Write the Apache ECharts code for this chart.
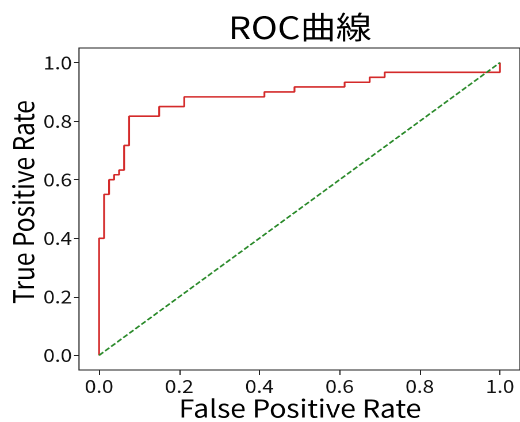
<!DOCTYPE html>
<html>
<head>
<meta charset="utf-8">
<script src="https://cdn.jsdelivr.net/npm/echarts@6/dist/echarts.min.js"></script>
<style>
html,body{margin:0;padding:0;background:#fff;overflow:hidden;}
#wrap{width:520px;height:422px;overflow:hidden;}
#chart{width:452px;height:422px;transform:scaleX(1.1504);transform-origin:0 0;}
</style>
</head>
<body>
<div id="wrap"><div id="chart"></div></div>
<script>
const titleText = 'ROC曲線';
const xAxisName = 'False Positive Rate';
const yAxisName = 'True Positive Rate';
const tickValues = [0, 0.2, 0.4, 0.6, 0.8, 1.0];
const fpr = [0, 0, 0.0125, 0.0125, 0.025, 0.025, 0.0375, 0.0375, 0.05, 0.05, 0.0625, 0.0625, 0.075, 0.075, 0.15, 0.15, 0.2125, 0.2125, 0.4125, 0.4125, 0.4875, 0.4875, 0.6125, 0.6125, 0.675, 0.675, 0.7125, 0.7125, 1.0, 1.0];
const tpr = [0, 0.4, 0.4, 0.55, 0.55, 0.6, 0.6, 0.617, 0.617, 0.633, 0.633, 0.717, 0.717, 0.817, 0.817, 0.85, 0.85, 0.883, 0.883, 0.9, 0.9, 0.917, 0.917, 0.933, 0.933, 0.95, 0.95, 0.967, 0.967, 1.0];
const diagX = [0, 1];
const diagY = [0, 1];

// the reference picture is horizontally stretched; draw at 452px wide and stretch to 520px
const SX = 520 / 452;
const FONT = '"Noto Sans CJK JP", "Noto Sans", sans-serif';
const chart = echarts.init(document.getElementById('chart'), null, {renderer: 'canvas', devicePixelRatio: 2});
const axisCommon = {
  type: 'value',
  min: -0.05,
  max: 1.05,
  axisLine: {show: false, onZero: false},
  splitLine: {show: false},
  axisLabel: {customValues: tickValues, fontFamily: FONT, fontSize: 18, color: '#111',
    formatter: v => Number(v).toFixed(1)}
};
function deepMerge(a, b) { return echarts.util.merge(echarts.util.clone(a), b, true); }
chart.setOption({
  animation: false,
  backgroundColor: '#fff',
  graphic: [
    {type: 'text', x: 300 / SX, y: 27,
     style: {text: titleText, fontFamily: FONT, fontSize: 31, fill: '#000', textAlign: 'center', textVerticalAlign: 'middle'}},
    {type: 'text', x: 300 / SX, y: 408,
     style: {text: xAxisName, fontFamily: FONT, fontSize: 24.5, fill: '#000', textAlign: 'center', textVerticalAlign: 'middle'}},
    {type: 'text', x: 23 / SX, y: 202, rotation: Math.PI / 2,
     style: {text: yAxisName, fontFamily: FONT, fontSize: 24.5, fill: '#000', textAlign: 'center', textVerticalAlign: 'middle'}}
  ],
  grid: {left: 79 / SX, top: 48, width: 443 / SX, height: 322, show: true, borderColor: '#222', borderWidth: 1, backgroundColor: 'transparent'},
  xAxis: deepMerge(axisCommon, {
    axisTick: {show: true, inside: false, length: 5, customValues: tickValues, lineStyle: {color: '#222', width: 1}},
    axisLabel: {margin: 7}
  }),
  yAxis: deepMerge(axisCommon, {
    axisTick: {show: true, inside: false, length: 5 / SX, customValues: tickValues, lineStyle: {color: '#222', width: 1}},
    axisLabel: {margin: 7 / SX}
  }),
  series: [
    {
      type: 'line', symbol: 'none', silent: true,
      data: fpr.map((x, i) => [x, tpr[i]]),
      lineStyle: {color: '#d42a2a', width: 1.6},
      itemStyle: {color: '#d42a2a'}
    },
    {
      type: 'line', symbol: 'none', silent: true,
      data: diagX.map((x, i) => [x, diagY[i]]),
      lineStyle: {color: '#2a8a2a', width: 1.6, type: [5.5 / SX, 2.4 / SX]},
      itemStyle: {color: '#2a8a2a'}
    }
  ]
});
</script>
</body>
</html>
